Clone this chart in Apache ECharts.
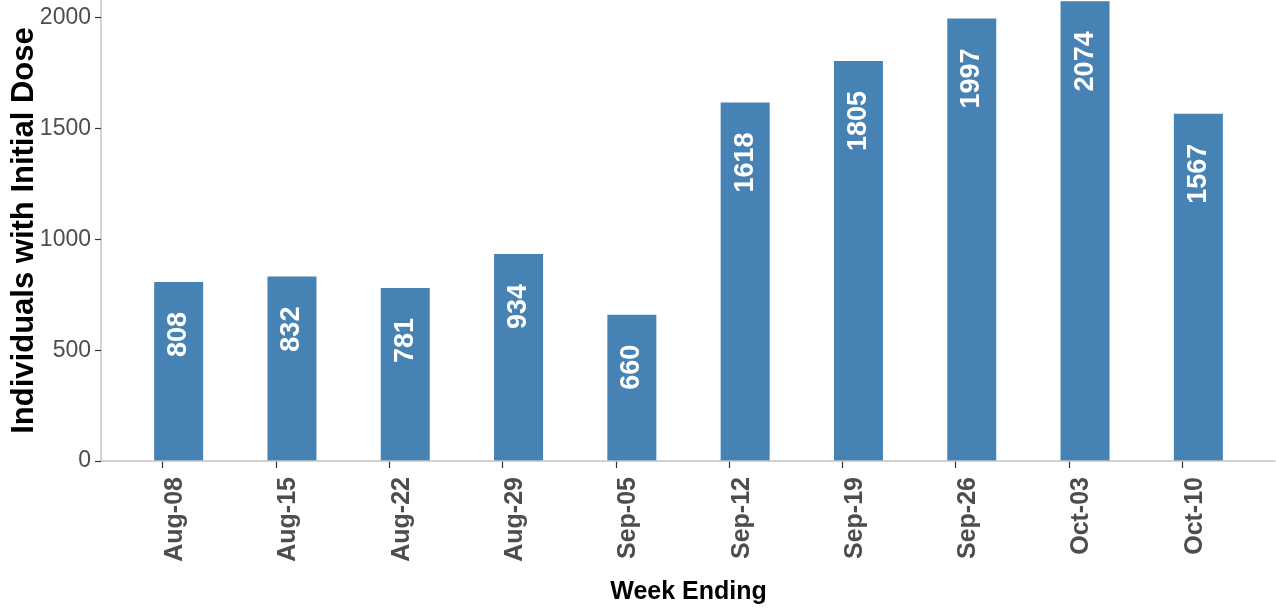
<!DOCTYPE html>
<html>
<head>
<meta charset="utf-8">
<script src="https://cdn.jsdelivr.net/npm/echarts@6/dist/echarts.min.js"></script>
<style>
html,body{margin:0;padding:0;background:#fff;}
#chart{width:1276px;height:615px;}
</style>
</head>
<body>
<div id="chart"></div>
<script>
const categories = ['Aug-08','Aug-15','Aug-22','Aug-29','Sep-05','Sep-12','Sep-19','Sep-26','Oct-03','Oct-10'];
const doses = [808, 832, 781, 934, 660, 1618, 1805, 1997, 2074, 1567];
const yTicks = [0, 500, 1000, 1500, 2000];
const yMax = 2080;

const arial = "'Liberation Sans', Arial, sans-serif";

const chart = echarts.init(document.getElementById('chart'), null, {renderer: 'canvas'});
chart.setOption({
  backgroundColor: '#ffffff',
  animation: false,
  grid: [
    {left: 122, right: 21, top: 0, bottom: 154, containLabel: false, outerBoundsMode: 'none'},   // bars
    {left: 106, right: 37, top: 0, bottom: 154, containLabel: false, outerBoundsMode: 'none'},   // ticks + labels
    {left: 101, right: 1, top: 0, bottom: 154, containLabel: false, outerBoundsMode: 'none'}     // frame
  ],
  xAxis: [
    {
      gridIndex: 0, type: 'category', data: categories,
      axisLine: {show: false}, axisTick: {show: false}, axisLabel: {show: false},
      name: 'Week Ending', nameLocation: 'middle', nameGap: 119, nameMoveOverlap: false,
      nameTextStyle: {fontFamily: arial, fontWeight: 'bold', fontSize: 25, color: '#000'}
    },
    {
      gridIndex: 1, type: 'category', data: categories,
      axisLine: {show: false},
      axisTick: {show: true, alignWithLabel: true, length: 7, lineStyle: {color: '#333', width: 1.2}},
      axisLabel: {show: true, interval: 0, rotate: 90, margin: 16, verticalAlign: 'top',
        fontFamily: arial, fontWeight: 'bold', fontSize: 25, color: '#4d4d4d'}
    },
    {
      gridIndex: 2, type: 'value', min: 0, max: 1, z: 5,
      axisLine: {show: true, lineStyle: {color: '#c4c4c4', width: 1.5}},
      axisTick: {show: false}, axisLabel: {show: false}, splitLine: {show: false}
    }
  ],
  yAxis: [
    {gridIndex: 0, type: 'value', min: 0, max: yMax, show: false},
    {gridIndex: 1, type: 'value', min: 0, max: yMax, show: false},
    {
      gridIndex: 2, type: 'value', min: 0, max: yMax, z: 5,
      axisLine: {show: true, lineStyle: {color: '#c4c4c4', width: 1.5}},
      axisTick: {show: true, length: 6, customValues: yTicks, lineStyle: {color: '#333', width: 1.2}},
      axisLabel: {show: true, customValues: yTicks, margin: 10, fontFamily: arial, fontSize: 23, color: '#4d4d4d',
        formatter: function (v) { return String(v); }},
      splitLine: {show: false},
      name: 'Individuals with Initial Dose', nameLocation: 'middle', nameGap: 61, nameRotate: 90,
      nameMoveOverlap: false,
      nameTextStyle: {fontFamily: arial, fontWeight: 'bold', fontSize: 31, color: '#000'}
    }
  ],
  series: [{
    type: 'bar',
    xAxisIndex: 0, yAxisIndex: 0,
    data: doses,
    barWidth: 49,
    itemStyle: {color: '#4682B4'},
    label: {
      show: true, position: 'insideTop', distance: 30, rotate: 90,
      align: 'right', verticalAlign: 'middle',
      fontFamily: arial, fontWeight: 'bold', fontSize: 27, color: '#ffffff'
    }
  }]
});
</script>
</body>
</html>
